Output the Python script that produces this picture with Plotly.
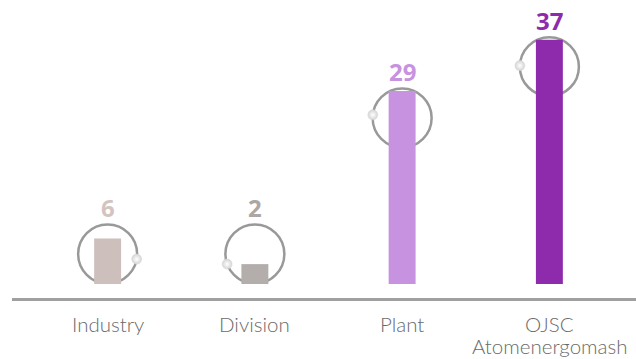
import math
import plotly.graph_objects as go

# ---- data ----
categories = ["Industry", "Division", "Plant", "OJSC<br>Atomenergomash"]
values = [6, 2, 29, 37]

# ---- style ----
bar_colors = ["#cdc0bc", "#b3aeac", "#c792df", "#8e2aac"]
label_colors = ["#d2c5c1", "#aca7a5", "#c792df", "#8e2aac"]
dot_angles = [-10, 200, 174, 178]

W, H = 636, 359
L, R, T, B = 34, 13, 0, 75
pw, ph = W - L - R, H - T - B
Y0, Y1 = -1.1, 43.18
ypx = ph / (Y1 - Y0)
xpx = pw / 4.0


def dy(px):
    return px / ypx


def dx(px):
    return px / xpx


RAD = 29.5
MIN_CY = 3.58
xs = list(range(len(values)))

fig = go.Figure()
fig.add_trace(go.Bar(
    x=xs, y=[v - Y0 for v in values], base=Y0,
    marker=dict(color=bar_colors, line=dict(width=0)),
    width=0.183, hoverinfo="skip",
))

dot_x, dot_y = [], []
shapes = []
annotations = []
for i, v in enumerate(values):
    cy = max(v - dy(27), MIN_CY)
    shapes.append(dict(type="circle", xref="x", yref="y", layer="below",
                       x0=i - dx(RAD), x1=i + dx(RAD), y0=cy - dy(RAD), y1=cy + dy(RAD),
                       line=dict(color="#999999", width=2.5)))
    a = math.radians(dot_angles[i])
    dot_x.append(i + dx(RAD * math.cos(a)))
    dot_y.append(cy + dy(RAD * math.sin(a)))
    ly = max(v, cy + dy(RAD)) + dy(17)
    annotations.append(dict(x=i, y=ly, xref="x", yref="y", text=str(v), showarrow=False,
                            yanchor="middle",
                            font=dict(family="Open Sans", size=24, color=label_colors[i], weight="bold")))
    for k, line in enumerate(categories[i].split("<br>")):
        annotations.append(dict(x=i, y=0, xref="x", yref="paper", text=line, showarrow=False,
                                yanchor="middle", yshift=-(40 + 21.5 * k),
                                font=dict(family="Lato", size=20.5, color="#6a6a6a", weight=300)))

fig.add_trace(go.Scatter(
    x=dot_x, y=dot_y, mode="markers", cliponaxis=False, hoverinfo="skip",
    marker=dict(size=10, color="#d4d4d4", gradient=dict(type="radial", color="#ffffff"),
                line=dict(width=0.5, color="#d8d8d8")),
))

shapes.append(dict(type="line", xref="paper", yref="paper",
                   x0=(12 - L) / pw, x1=(W - L) / pw,
                   y0=-15.5 / ph, y1=-15.5 / ph,
                   line=dict(color="#a0a0a0", width=3)))

fig.update_layout(
    width=W, height=H, autosize=False,
    margin=dict(l=L, r=R, t=T, b=B, pad=0),
    paper_bgcolor="white", plot_bgcolor="white",
    showlegend=False,
    xaxis=dict(range=[-0.5, 3.5], visible=False, fixedrange=True),
    yaxis=dict(range=[Y0, Y1], visible=False, fixedrange=True),
    shapes=shapes, annotations=annotations,
)

fig.write_html("out.html")
